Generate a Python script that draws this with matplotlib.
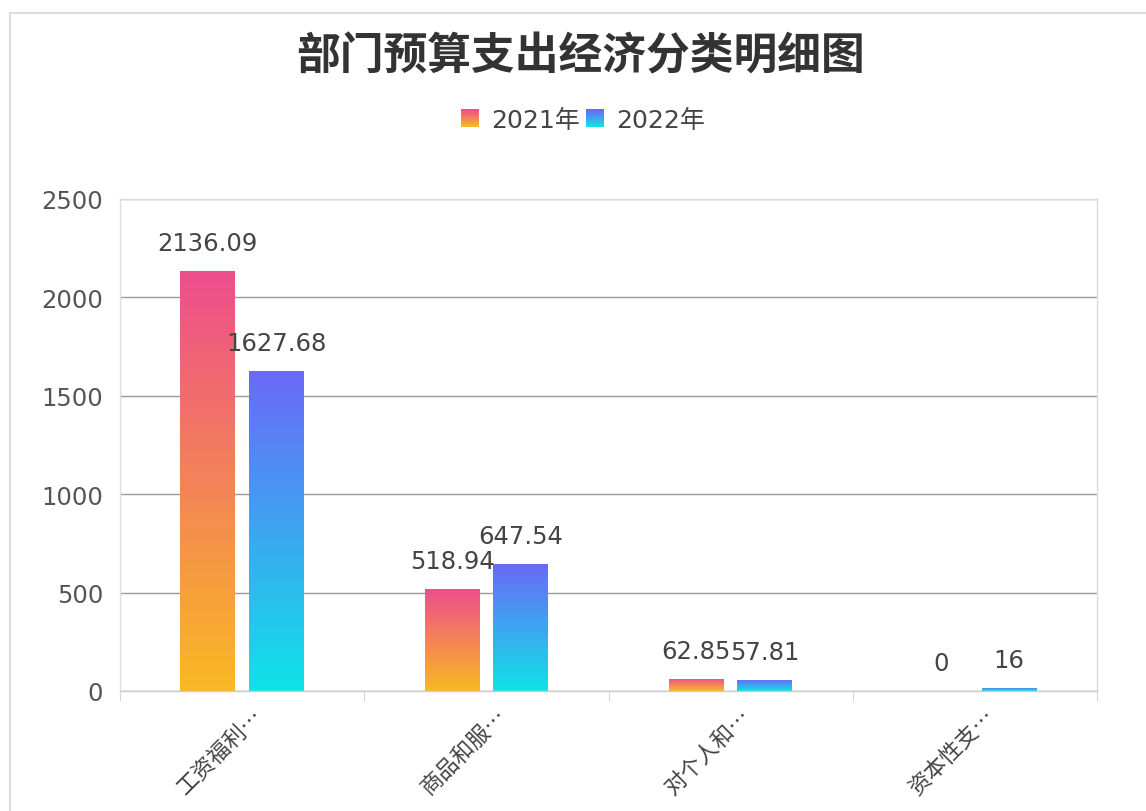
import numpy as np
import matplotlib
matplotlib.use("Agg")
import matplotlib.pyplot as plt
from matplotlib.colors import LinearSegmentedColormap
from matplotlib.legend_handler import HandlerBase
from matplotlib.patches import Rectangle
from matplotlib.lines import Line2D
from matplotlib.transforms import ScaledTranslation

plt.rcParams['font.family'] = ['DejaVu Sans', 'Noto Sans CJK SC']

title = "部门预算支出经济分类明细图"
categories = ["工资福利…", "商品和服…", "对个人和…", "资本性支…"]
series_names = ["2021年", "2022年"]
values_2021 = [2136.09, 518.94, 62.85, 0]
values_2022 = [1627.68, 647.54, 57.81, 16]
yticks = [0, 500, 1000, 1500, 2000, 2500]

# top colour, bottom colour of each gradient
grad_2021 = ("#ee4d8d", "#f9b923")
grad_2022 = ("#6b68f8", "#0fe3e8")


def make_cmap(top, bottom):
    # 0 -> bottom, 1 -> top
    return LinearSegmentedColormap.from_list("g", [bottom, top])


class GradHandler(HandlerBase):
    def __init__(self, cmap):
        super().__init__()
        self.cmap = cmap

    def create_artists(self, legend, orig_handle, xdescent, ydescent,
                       width, height, fontsize, trans):
        n = 20
        size = height
        x0 = -xdescent + (width - size) / 2
        y0 = -ydescent + (height - size) / 2
        arts = []
        for i in range(n):
            r = Rectangle((x0, y0 + size * i / n), size, size / n * 1.05,
                          facecolor=self.cmap(i / (n - 1)), lw=0,
                          transform=trans)
            arts.append(r)
        return arts


fig = plt.figure(figsize=(11.46, 8.12), dpi=100)
ax = fig.add_axes([120 / 1146, 1 - 692 / 812, (1097 - 120) / 1146, (692 - 200) / 812])

x = np.arange(len(categories))
w = 0.225
off = 0.14
cm21 = make_cmap(*grad_2021)
cm22 = make_cmap(*grad_2022)
grad = np.linspace(1, 0, 256).reshape(-1, 1)

for vals, shift, cm in [(values_2021, -off, cm21), (values_2022, off, cm22)]:
    bars = ax.bar(x + shift, vals, w, facecolor="none", edgecolor="none", zorder=2)
    for b, v in zip(bars, vals):
        x0 = b.get_x()
        if v > 0:
            im = ax.imshow(grad, cmap=cm, aspect="auto", zorder=2,
                           extent=(x0, x0 + b.get_width(), 0, v),
                           interpolation="bicubic")
            im.set_clip_path(b)
        ax.annotate(f"{v:g}", (x0 + b.get_width() / 2, v), xytext=(0, 15),
                    textcoords="offset points", ha="center", va="baseline",
                    fontsize=17.5, color="#444444", zorder=3)

ax.set_xlim(-0.5, len(categories) - 0.5)
ax.set_ylim(0, 2500)
ax.set_yticks(yticks)
ax.set_yticklabels([str(t) for t in yticks])
ax.yaxis.grid(True, color="#999999", lw=1)
ax.set_axisbelow(True)
for s in ax.spines.values():
    s.set_color("#dddddd")
    s.set_linewidth(1)
ax.spines["bottom"].set_color("#cccccc")

# category labels drawn as rotated texts hanging under each category
ax.set_xticks(x)
ax.set_xticklabels([])
lbl_trans = ax.get_xaxis_transform() + ScaledTranslation(17 / 100, -20 / 100, fig.dpi_scale_trans)
for xi, name in zip(x, categories):
    ax.text(xi, 0, name, transform=lbl_trans, rotation=45, rotation_mode="anchor",
            ha="right", va="center", fontsize=16, color="#444444",
            family=['Noto Sans CJK SC', 'DejaVu Sans'], clip_on=False)
ax.set_xticks(np.arange(len(categories) + 1) - 0.5, minor=True)
ax.tick_params(axis="x", which="major", length=0)
ax.tick_params(axis="x", which="minor", length=7, color="#cccccc")
ax.tick_params(axis="y", length=0, pad=12, labelsize=17.5, labelcolor="#555555")

fig.text(0.507, 1 - 57 / 812, title, ha="center", va="center",
         fontsize=31.5, fontweight="bold", color="#333333")

h1 = Rectangle((0, 0), 1, 1)
h2 = Rectangle((0, 0), 1, 1)
fig.legend([h1, h2], series_names, loc="center", bbox_to_anchor=(0.509, 1 - 121 / 812),
           ncol=2, frameon=False, fontsize=18, handlelength=0.7, handleheight=0.7,
           handletextpad=0.5, columnspacing=0.25, labelcolor="#444444",
           handler_map={h1: GradHandler(cm21), h2: GradHandler(cm22)})

# outer frame of the card
fig.add_artist(Line2D([9.5 / 1146, 9.5 / 1146], [0, 1 - 14 / 812],
                      transform=fig.transFigure, color="#dddddd", lw=1.5))
fig.add_artist(Line2D([9.5 / 1146, 1], [1 - 14 / 812, 1 - 14 / 812],
                      transform=fig.transFigure, color="#dddddd", lw=1.5))

fig.savefig("out.png", dpi=100)
